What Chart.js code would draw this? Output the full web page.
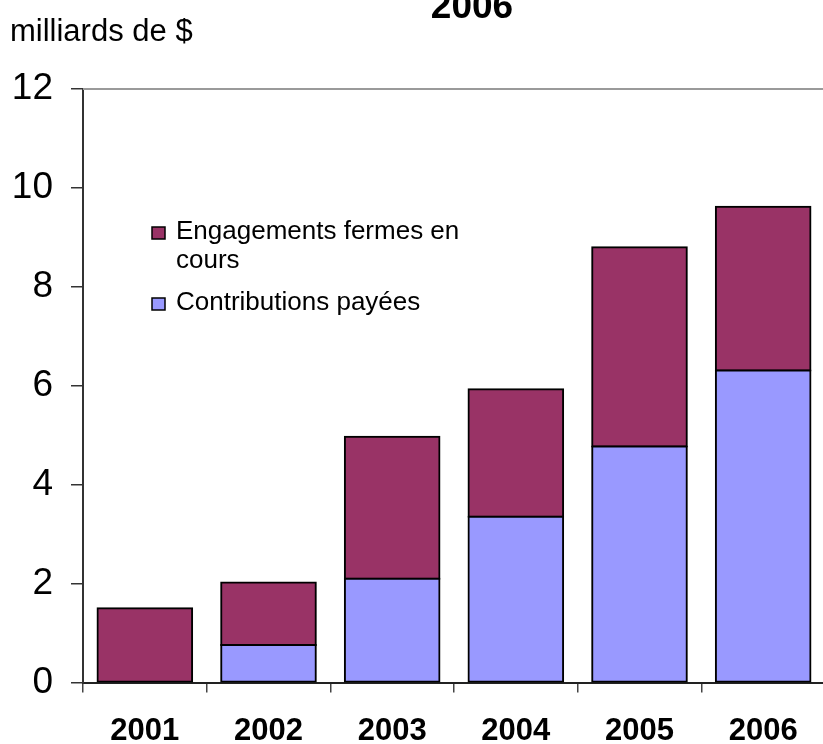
<!DOCTYPE html>
<html><head><meta charset="utf-8">
<script src="https://cdn.jsdelivr.net/npm/chart.js@4"></script>
<style>
html,body{margin:0;padding:0;overflow:hidden;background:#fff;width:823px;height:744px}
#wrap{position:absolute;left:0;top:0;width:826px;height:744px}
</style>
</head><body>
<div id="wrap"><canvas id="c" width="826" height="744"></canvas></div>
<script>
const categories = ['2001', '2002', '2003', '2004', '2005', '2006'];
const contributionsPayees = [0, 0.76, 2.10, 3.35, 4.77, 6.31];
const engagementsFermes = [1.50, 1.26, 2.87, 2.58, 4.03, 3.31];
const yTicks = [0, 2, 4, 6, 8, 10, 12];
const titleText = '2006';
const yAxisLabel = 'milliards de $';
const legendLines = [['Engagements fermes en', 'cours'], ['Contributions payées']];

const FONT = '"Liberation Sans", Arial, Helvetica, sans-serif';
const colPurple = '#993366';
const colBlue = '#9999FF';

const extras = {
  id: 'extras',
  afterDraw(chart) {
    const ctx = chart.ctx;
    const area = chart.chartArea;
    ctx.save();
    // top frame line
    ctx.strokeStyle = '#9a9a9a';
    ctx.lineWidth = 2;
    ctx.beginPath();
    ctx.moveTo(area.left, area.top);
    ctx.lineTo(area.right, area.top);
    ctx.stroke();
    // title
    ctx.fillStyle = '#000';
    ctx.textAlign = 'center';
    ctx.textBaseline = 'alphabetic';
    ctx.font = 'bold 37px ' + FONT;
    ctx.fillText(titleText, 472, 18);
    // axis unit label
    ctx.textAlign = 'left';
    ctx.font = '31px ' + FONT;
    ctx.fillText(yAxisLabel, 10, 41);
    // legend
    const items = [
      { color: chart.data.datasets[1].backgroundColor, lines: legendLines[0], base: 239 },
      { color: chart.data.datasets[0].backgroundColor, lines: legendLines[1], base: 310 }
    ];
    ctx.font = '26px ' + FONT;
    items.forEach(it => {
      ctx.fillStyle = it.color;
      ctx.fillRect(152, it.base - 12, 13, 12);
      ctx.strokeStyle = '#000';
      ctx.lineWidth = 1.5;
      ctx.strokeRect(152, it.base - 12, 13, 12);
      ctx.fillStyle = '#000';
      it.lines.forEach((ln, i) => ctx.fillText(ln, 176, it.base + i * 29));
    });
    ctx.restore();
  }
};

new Chart(document.getElementById('c'), {
  type: 'bar',
  data: {
    labels: categories,
    datasets: [
      { label: 'Contributions payées', data: contributionsPayees, backgroundColor: colBlue,
        borderColor: '#000', borderWidth: 2, borderSkipped: false, inflateAmount: 1,
        categoryPercentage: 1, barPercentage: 0.765 },
      { label: 'Engagements fermes en cours', data: engagementsFermes, backgroundColor: colPurple,
        borderColor: '#000', borderWidth: 2, borderSkipped: false, inflateAmount: 1,
        categoryPercentage: 1, barPercentage: 0.765 }
    ]
  },
  options: {
    responsive: false,
    animation: false,
    devicePixelRatio: 1,
    layout: { padding: { top: 89, left: 0, right: 1, bottom: 0 } },
    plugins: { legend: { display: false }, tooltip: { enabled: false }, title: { display: false } },
    scales: {
      x: {
        stacked: true,
        grid: { offset: true, drawOnChartArea: false, drawTicks: true, tickLength: 10, color: '#444', lineWidth: 1.5 },
        border: { display: true, color: '#222', width: 2 },
        ticks: { color: '#000', padding: 23, font: { family: FONT, size: 31, weight: 'bold', lineHeight: 1 }, maxRotation: 0, autoSkip: false },
        afterFit(s) { s.height = 61.5; }
      },
      y: {
        stacked: true,
        min: 0, max: 12,
        afterBuildTicks(s) { s.ticks = yTicks.map(v => ({ value: v })); },
        grid: { drawOnChartArea: false, drawTicks: true, tickLength: 12, color: '#333', lineWidth: 1.5 },
        border: { display: true, color: '#333', width: 2 },
        ticks: { color: '#000', padding: 18, font: { family: FONT, size: 37, lineHeight: 1 } },
        afterFit(s) { s.width = 83; }
      }
    }
  },
  plugins: [extras]
});
</script>
</body></html>
